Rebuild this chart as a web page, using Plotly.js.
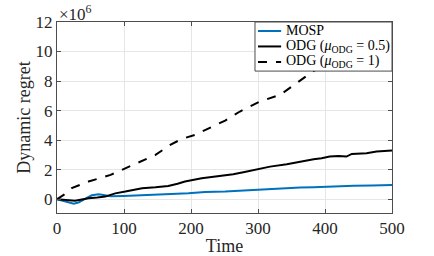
<!DOCTYPE html>
<html>
<head>
<meta charset="utf-8">
<script src="https://cdn.plot.ly/plotly-3.0.1.min.js"></script>
<style>html,body{margin:0;padding:0;background:#fff;}#chart{width:434px;height:256px;}</style>
</head>
<body>
<div id="chart"></div>
<script>
// Values in units of 1e6 (axis shows x10^6)
const tMOSP = [0, 10, 18, 25, 32, 40, 46, 52, 58, 62, 67, 72, 80, 99, 120, 147, 170, 196, 221, 251, 275, 303, 333, 363, 383, 403, 423, 443, 470, 500];
const vMOSP = [0, -0.12, -0.24, -0.3, -0.22, -0.05, 0.12, 0.27, 0.32, 0.34, 0.31, 0.27, 0.2, 0.22, 0.27, 0.34, 0.36, 0.4, 0.49, 0.52, 0.58, 0.68, 0.72, 0.79, 0.82, 0.86, 0.88, 0.92, 0.94, 0.97];

const tODG05 = [0, 10, 17, 27, 37, 47, 60, 72, 80, 87, 102, 115, 127, 147, 166, 180, 191, 216, 236, 251, 263, 280, 293, 318, 343, 363, 383, 395, 407, 420, 432, 440, 462, 477, 490, 500];
const vODG05 = [0, -0.03, -0.05, -0.1, -0.02, 0.07, 0.12, 0.18, 0.3, 0.4, 0.52, 0.62, 0.75, 0.81, 0.9, 1.05, 1.2, 1.42, 1.53, 1.6, 1.69, 1.85, 1.99, 2.21, 2.37, 2.55, 2.71, 2.78, 2.89, 2.93, 2.89, 3.07, 3.12, 3.23, 3.25, 3.3];

const tODG1 = [0, 10, 22, 47, 80, 99, 127, 147, 169, 186, 206, 231, 251, 273, 303, 333, 358, 382, 420, 460, 500];
const vODG1 = [0, 0.3, 0.75, 1.2, 1.65, 2.03, 2.55, 3.0, 3.68, 4.08, 4.36, 4.92, 5.33, 5.94, 6.62, 7.07, 7.86, 8.65, 9.6, 10.5, 11.4];

const names = ['MOSP',
  'ODG (<i>μ</i><sub>ODG</sub> = 0.5)',
  'ODG (<i>μ</i><sub>ODG</sub> = 1)'];
const colors = ['#0072BD', '#000000', '#000000'];
const dashes = ['solid', 'solid', 'dash'];
const xTicks = [0, 100, 200, 300, 400, 500];
const yTicks = [0, 2, 4, 6, 8, 10, 12];

const F = '"Times New Roman", "Liberation Serif", serif';
const series = [[tMOSP, vMOSP], [tODG05, vODG05], [tODG1, vODG1]];
const traces = series.map((s, i) => ({
  x: s[0], y: s[1], name: names[i], mode: 'lines', showlegend: false,
  line: {color: colors[i], width: 2, dash: dashes[i]}
}));

// Manual legend (compact, MATLAB-like) in paper coordinates
const lgX0 = 0.591, lgY0 = 0.743, rowY = [0.953, 0.872, 0.791];
const shapes = [{
  type: 'rect', xref: 'paper', yref: 'paper', x0: lgX0, x1: 1, y0: lgY0, y1: 1,
  fillcolor: '#ffffff', line: {color: '#4d4d4d', width: 1}, layer: 'above'
}];
const annotations = [{
  xref: 'paper', yref: 'paper', x: 0, y: 1, xanchor: 'left', yanchor: 'bottom',
  text: '×10<sup>6</sup>', showarrow: false, xshift: 0, yshift: -4,
  font: {family: F, size: 17, color: '#262626'}
}];
names.forEach((n, i) => {
  shapes.push({
    type: 'line', xref: 'paper', yref: 'paper', x0: 0.600, x1: 0.669, y0: rowY[i], y1: rowY[i],
    line: {color: colors[i], width: 2, dash: dashes[i]}, layer: 'above'
  });
  annotations.push({
    xref: 'paper', yref: 'paper', x: 0.678, y: rowY[i], xanchor: 'left', yanchor: 'middle',
    text: n, showarrow: false, font: {family: F, size: 14, color: '#000'}
  });
});

const axisCommon = {
  showgrid: true, gridcolor: '#e6e6e6', gridwidth: 1,
  zeroline: false, showline: true, linecolor: '#4d4d4d', linewidth: 1,
  mirror: 'ticks', ticks: 'inside', ticklen: 4, tickcolor: '#4d4d4d',
  tickfont: {family: F, size: 17, color: '#262626'}
};
const layout = {
  width: 434, height: 256,
  margin: {l: 57, r: 42, t: 22, b: 43},
  paper_bgcolor: '#fff', plot_bgcolor: '#fff',
  showlegend: false,
  font: {family: F, color: '#262626'},
  xaxis: Object.assign({}, axisCommon, {
    range: [0, 500], tickvals: xTicks, ticktext: xTicks.map(String),
    title: {text: 'Time', font: {family: F, size: 18, color: '#262626'}, standoff: 2}
  }),
  yaxis: Object.assign({}, axisCommon, {
    range: [-0.93, 12], tickvals: yTicks, ticktext: yTicks.map(String),
    title: {text: 'Dynamic regret', font: {family: F, size: 18, color: '#262626'}, standoff: 0}
  }),
  shapes: shapes,
  annotations: annotations
};
Plotly.newPlot('chart', traces, layout, {displayModeBar: false, staticPlot: true});
</script>
</body>
</html>
